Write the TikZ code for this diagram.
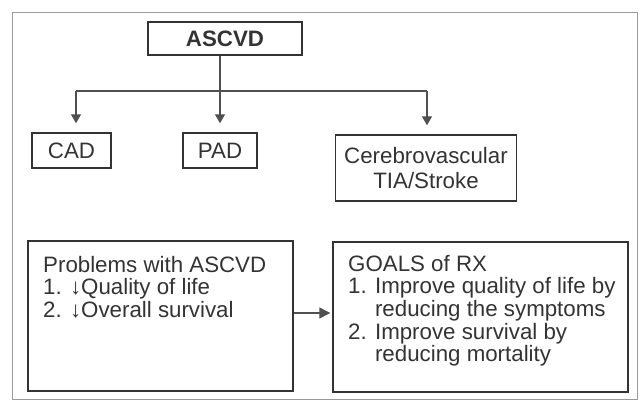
\documentclass[tikz,border=0pt]{standalone}
\usepackage{fontspec}
\setmainfont{Liberation Sans}
\usetikzlibrary{arrows.meta}
\definecolor{boxc}{HTML}{333333}
\definecolor{linec}{HTML}{505050}
\definecolor{framec}{HTML}{9A9A9A}
\begin{document}
\begin{tikzpicture}[x=1pt,y=-1pt,
  box/.style={draw=boxc, line width=1.4pt, inner sep=0pt, text=boxc,
    font=\fontsize{22.3}{24}\selectfont},
  txt/.style={inner sep=0pt, anchor=north west, align=left, text=boxc,
    font=\fontsize{22.3}{22.6}\selectfont},
  conn/.style={draw=linec, line width=1.3pt},
  arr/.style={conn, -{Triangle[width=10pt,length=9pt]}, shorten >=9pt}]
\useasboundingbox (0,0) rectangle (642,401);
\draw[framec, line width=1pt] (12,13) rectangle (637,399);

\node[box, minimum width=154pt, minimum height=33pt] (asc) at (225,38.5) {\bfseries ASCVD};
\node[box, minimum width=79pt, minimum height=35pt] (cad) at (71.5,150.5) {CAD};
\node[box, minimum width=74pt, minimum height=35pt] (pad) at (220,150.5) {PAD};
\node[box, minimum width=181pt, minimum height=66pt, align=center,
  font=\fontsize{22.3}{25}\selectfont] (cer) at (426,168) {Cerebrovascular\\TIA/Stroke};

\node[box, minimum width=265pt, minimum height=150pt] (prob) at (160.5,316) {};
\node[box, minimum width=295pt, minimum height=150pt] (goal) at (480.5,317) {};

\node[txt] (probt) at (43,256) {Problems with ASCVD\\1. ↓Quality of life\\2. ↓Overall survival};
\node[txt] (goalt) at (348,255) {GOALS of RX\\1. Improve quality of life by\\\phantom{1. }reducing the symptoms\\2. Improve survival by\\\phantom{2. }reducing mortality};

\coordinate (hl) at (76,91);
\coordinate (hr) at (427,91);
\draw[conn] (hl) -- (hr);
\draw[arr] (hl) -- (hl |- cad.north);
\draw[arr] (hr) -- (hr |- cer.north);
\draw[arr] (asc.south -| pad.north) -- (pad.north);

\coordinate (ay) at (0,313);
\draw[conn, -{Triangle[width=11pt,length=11pt]}, shorten >=2pt] (ay -| prob.east) -- (ay -| goal.west);
\end{tikzpicture}
\end{document}
